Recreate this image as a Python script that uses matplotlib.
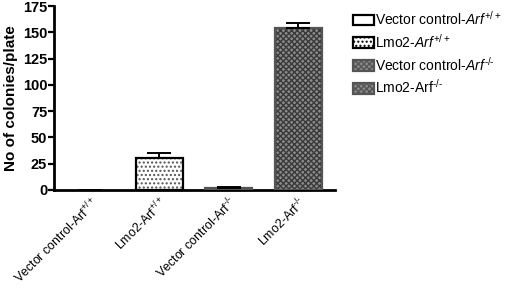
import numpy as np
import matplotlib
matplotlib.use('Agg')
import matplotlib.pyplot as plt
from matplotlib.patches import Patch

plt.rcParams['font.family'] = ['Liberation Sans', 'DejaVu Sans']
plt.rcParams['mathtext.fontset'] = 'custom'
plt.rcParams['mathtext.rm'] = 'Liberation Sans'
plt.rcParams['mathtext.it'] = 'Liberation Sans:italic'
plt.rcParams['mathtext.bf'] = 'Liberation Sans:bold'
plt.rcParams['hatch.linewidth'] = 1.0

# data
tick_labels = ['Vector control-Arf$^{+/+}$', 'Lmo2-Arf$^{+/+}$',
               'Vector control-Arf$^{\u2010/\u2010}$', 'Lmo2-Arf$^{\u2010/\u2010}$']
legend_labels = [r'Vector control-$\mathit{Arf}^{+/+}$', r'Lmo2-$\mathit{Arf}^{+/+}$',
                 'Vector control-$\\mathit{Arf}^{\u2010/\u2010}$', 'Lmo2-Arf$^{\u2010/\u2010}$']
values = [0, 30, 2, 154]
errors = [0, 5, 1, 5]

faces = ['white', 'white', '#8a8a8a', '#8a8a8a']
hatches = [None, '....', 'xxxxxx', 'xxxxxx']
hatch_cols = ['black', '#555555', '#3a3a3a', '#3a3a3a']
edges = ['black', 'black', '#555555', '#555555']

fig = plt.figure(figsize=(5.2, 2.89), dpi=100)
ax = fig.add_axes([0.104, 0.343, 0.54, 0.636])

x = np.arange(len(values))
# hatch layer, then the outline on top
for i in range(len(values)):
    if values[i] == 0:
        continue
    ax.bar(x[i], values[i], width=0.68, color=faces[i], hatch=hatches[i],
           edgecolor=hatch_cols[i], linewidth=0, zorder=2)
    ax.bar(x[i], values[i], width=0.68, fill=False, edgecolor=edges[i],
           linewidth=1.6, zorder=3)

ax.errorbar(x, values, yerr=[np.zeros(len(errors)), errors], fmt='none',
            ecolor='black', elinewidth=1.4, capsize=8.5, capthick=1.4, zorder=4)

ax.set_xlim(-0.52, 3.53)
ax.set_ylim(0, 175)
ax.set_yticks([0, 25, 50, 75, 100, 125, 150, 175])
ax.set_xticks(x)
ax.set_xticklabels(tick_labels, rotation=45, ha='right', rotation_mode='anchor',
                   fontsize=9)
ax.tick_params(axis='x', length=0, pad=3)
ax.tick_params(axis='y', length=4, width=1.6, labelsize=10.5, pad=1)
for lab in ax.get_yticklabels():
    lab.set_fontweight('bold')
ax.set_ylabel('No of colonies/plate', fontsize=11, fontweight='bold', labelpad=3)

for s in ['top', 'right']:
    ax.spines[s].set_visible(False)
for s in ['left', 'bottom']:
    ax.spines[s].set_linewidth(2)

handles = []
for i in range(4):
    handles.append(Patch(facecolor=faces[i], hatch=hatches[i], edgecolor=edges[i],
                         linewidth=1.6, label=legend_labels[i]))
fig.legend(handles=handles, loc='upper left', bbox_to_anchor=(0.665, 0.99),
           frameon=False, fontsize=10, handlelength=1.5, handleheight=0.8,
           handletextpad=0.1, labelspacing=0.35, borderpad=0)

fig.savefig('out.png', dpi=100)
